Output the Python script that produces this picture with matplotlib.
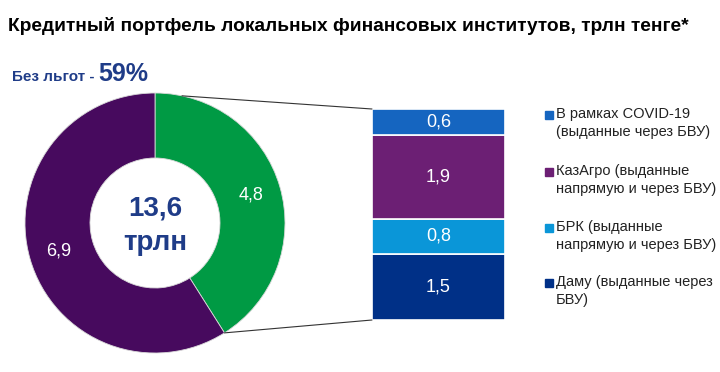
import matplotlib
matplotlib.use("Agg")
import matplotlib.pyplot as plt
from matplotlib.patches import ConnectionPatch
import numpy as np

# --- data ---
pie_labels = ["Льготные", "Без льгот"]
pie_values = [4.8, 6.9]
pie_colors = ["#009a44", "#470a5e"]

bar_labels = ["Даму (выданные через\nБВУ)",
              "БРК (выданные\nнапрямую и через БВУ)",
              "КазАгро (выданные\nнапрямую и через БВУ)",
              "В рамках COVID-19\n(выданные через БВУ)"]
bar_values = [1.5, 0.8, 1.9, 0.6]
bar_colors = ["#003087", "#0a96d8", "#6c1f74", "#1565c0"]

total_text = "13,6\nтрлн"
title = "Кредитный портфель локальных финансовых институтов, трлн тенге*"
share_text = "59%"

NAVY = "#1f3c88"
W, H = 720, 372


def fig_rect(x0, y0, x1, y1):
    """pixel box (top-left origin) -> figure fraction rect"""
    return [x0 / W, 1 - y1 / H, (x1 - x0) / W, (y1 - y0) / H]


def fit_width(txt, target_px, start=14):
    """shrink the font until the text is about target_px wide"""
    size = start
    for _ in range(30):
        txt.set_fontsize(size)
        w = txt.get_window_extent(renderer=fig.canvas.get_renderer()).width
        if w <= target_px:
            break
        size -= 0.25


plt.rcParams['font.family'] = ['Liberation Sans', 'DejaVu Sans']
fig = plt.figure(figsize=(7.2, 3.72), dpi=100)

# donut
ax_pie = fig.add_axes(fig_rect(25, 93, 285, 353))
wedges, texts = ax_pie.pie(pie_values, colors=pie_colors, startangle=90,
                           counterclock=False, radius=1.0,
                           wedgeprops=dict(width=0.5, edgecolor="#d9d9d9", linewidth=0.6),
                           labels=[f"{v:.1f}".replace(".", ",") for v in pie_values],
                           labeldistance=0.77, textprops=dict(color="white", fontsize=13))
for t in texts:
    t.set_ha("center")
    t.set_va("center")
ax_pie.set_xlim(-1, 1)
ax_pie.set_ylim(-1, 1)
ax_pie.set_aspect("equal")
ax_pie.text(0, -0.02, total_text, ha="center", va="center", fontsize=20,
            fontweight="bold", color=NAVY, linespacing=1.4)

# stacked bar
ax_bar = fig.add_axes(fig_rect(372, 109, 505, 320))
bottom = 0
for v, c in zip(bar_values, bar_colors):
    ax_bar.bar(0, v, width=1, bottom=bottom, color=c, edgecolor="white", linewidth=1.2)
    ax_bar.text(0, bottom + v / 2, f"{v:.1f}".replace(".", ","), ha="center",
                va="center", color="white", fontsize=13)
    bottom += v
ax_bar.set_xlim(-0.5, 0.5)
ax_bar.set_ylim(0, sum(bar_values))
ax_bar.axis("off")

# connector lines
w = wedges[0]
a_top = np.deg2rad(w.theta2 - 12)
a_bot = np.deg2rad(w.theta1)
for ang, ypt in [(a_top, sum(bar_values)), (a_bot, 0)]:
    con = ConnectionPatch(xyA=(np.cos(ang), np.sin(ang)), coordsA=ax_pie.transData,
                          xyB=(-0.5, ypt), coordsB=ax_bar.transData,
                          color="#333333", linewidth=0.8)
    fig.add_artist(con)

# legend
ax_leg = fig.add_axes([0, 0, 1, 1])
ax_leg.set_xlim(0, W)
ax_leg.set_ylim(H, 0)
ax_leg.axis("off")
leg_y = [115, 172, 228, 283]
for lab, c, y in zip(bar_labels[::-1], bar_colors[::-1], leg_y):
    ax_leg.add_patch(plt.Rectangle((545, y - 4), 8, 8, color=c))
    ax_leg.text(556, y - 8, lab, ha="left", va="top", fontsize=10.5,
                color="#222222", linespacing=1.35)

# titles
fig.canvas.draw()
tt = fig.text(8 / W, 1 - 26 / H, title, ha="left", va="center", fontsize=14,
              fontweight="bold", color="black")
fit_width(tt, 689)
t1 = fig.text(12 / W, 1 - 81 / H, "Без льгот - ", ha="left", va="baseline",
              fontsize=11, fontweight="bold", color=NAVY)
bb = t1.get_window_extent(renderer=fig.canvas.get_renderer())
fig.text(bb.x1 / W, 1 - 81 / H, share_text, ha="left", va="baseline",
         fontsize=18, fontweight="bold", color=NAVY)

fig.savefig("out.png", dpi=100)
